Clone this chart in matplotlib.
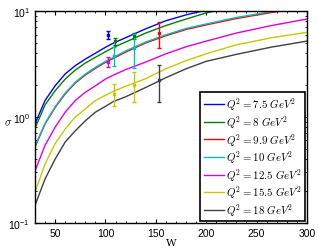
import numpy as np
import matplotlib.pyplot as plt
from matplotlib.ticker import MultipleLocator

plt.rcParams['mathtext.fontset'] = 'cm'
plt.rcParams['font.family'] = ['Liberation Sans', 'DejaVu Sans']

# curve samples
W = [30, 40, 50, 60, 70, 80, 90, 100, 108, 120, 140, 160, 180, 200, 230, 265, 300]
labels = ['7.5', '8', '9.9', '10', '12.5', '15.5', '18']
colors = ['#0000ff', '#008000', '#ff0000', '#00bfbf', '#e000e0', '#c8c800', '#404040']
sig_75 = [0.86, 1.43, 1.97, 2.55, 3.05, 3.52, 4.0, 4.55, 4.99, 5.6, 6.8, 8.1, 9.2, 10.2, 11.6, 13.0, 14.5]
sig_8 = [0.78, 1.30, 1.77, 2.28, 2.77, 3.23, 3.66, 4.13, 4.54, 5.1, 6.2, 7.3, 8.4, 9.6, 11.0, 12.3, 13.5]
sig_99 = [0.52, 0.86, 1.23, 1.65, 2.09, 2.49, 2.88, 3.28, 3.58, 4.1, 5.0, 5.85, 6.7, 7.4, 8.5, 9.7, 10.8]
sig_10 = [0.53, 0.87, 1.25, 1.68, 2.13, 2.54, 2.94, 3.35, 3.66, 4.2, 5.1, 5.97, 6.85, 7.55, 8.7, 9.9, 11.0]
sig_125 = [0.31, 0.54, 0.80, 1.11, 1.43, 1.71, 1.97, 2.28, 2.49, 2.8, 3.3, 3.95, 4.6, 5.2, 6.2, 7.3, 8.4]
sig_155 = [0.195, 0.36, 0.56, 0.77, 1.0, 1.19, 1.43, 1.60, 1.75, 1.95, 2.3, 2.85, 3.4, 3.95, 4.8, 5.6, 6.3]
sig_18 = [0.146, 0.26, 0.40, 0.58, 0.74, 0.92, 1.11, 1.26, 1.40, 1.55, 1.9, 2.35, 2.85, 3.35, 3.9, 4.57, 5.2]
curves = [sig_75, sig_8, sig_99, sig_10, sig_125, sig_155, sig_18]

# measured points with error bars: (curve index, W, sigma, error)
pts_idx = [0, 1, 1, 4, 3, 3, 2, 5, 5, 6]
pts_W = [102.5, 109.5, 128, 102.5, 108.5, 128, 153, 108.5, 128, 153]
pts_sig = [5.95, 5.2, 5.8, 3.3, 3.8, 4.5, 6.2, 1.66, 2.02, 2.24]
pts_err = [0.5, 0.4, 0.4, 0.35, 0.8, 1.6, 1.7, 0.39, 0.63, 0.85]

fig = plt.figure(figsize=(3.18, 2.51), dpi=100)
ax = fig.add_axes([0.110, 0.108, 0.855, 0.844])

for c, s, lab in zip(colors, curves, labels):
    ax.semilogy(W, s, color=c, lw=1.0, label=r'$Q^2 = %s\ GeV^2$' % lab)

for i, w, s, e in zip(pts_idx, pts_W, pts_sig, pts_err):
    ax.errorbar(w, s, yerr=e, color=colors[i], fmt='s', ms=1.5, lw=1.0,
                capsize=1.5, capthick=1.0)

ax.set_xlim(30, 300)
ax.set_ylim(0.1, 10)
ax.xaxis.set_major_locator(MultipleLocator(50))
ax.xaxis.set_minor_locator(MultipleLocator(10))
ax.tick_params(which='both', direction='in', top=True, right=True, labelsize=7.5)
ax.tick_params(which='major', length=3)
ax.tick_params(which='minor', length=1.5)
for sp in ax.spines.values():
    sp.set_linewidth(1.0)
ax.set_xlabel('W', fontsize=7.5, family='serif', labelpad=0)
ax.set_ylabel(r'$\sigma$', fontsize=8, rotation=0)
ax.yaxis.set_label_coords(-0.1, 0.45)

leg = ax.legend(loc='lower right', fontsize=7.8, handlelength=1.9, handletextpad=0.2,
                labelspacing=0.1, borderpad=0.3, borderaxespad=0.15,
                fancybox=False, framealpha=1)
leg.get_frame().set_edgecolor('black')
leg.get_frame().set_linewidth(1.2)

fig.savefig('out.png', dpi=100)
